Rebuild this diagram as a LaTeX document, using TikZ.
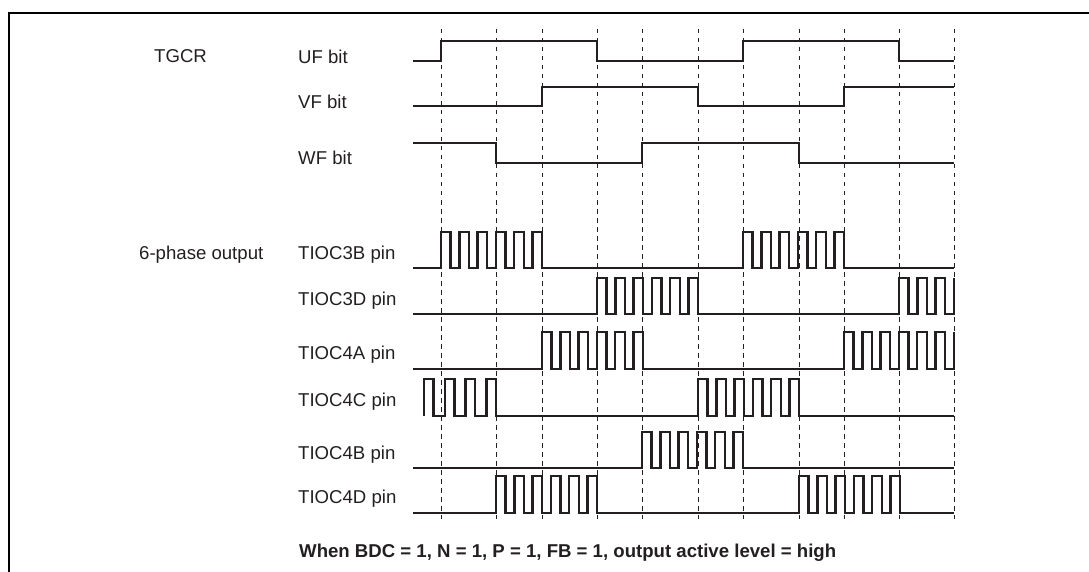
\documentclass[tikz,border=0pt]{standalone}
\usepackage{fontspec}
\setmainfont{Liberation Sans}
\definecolor{ink}{HTML}{231F20}
\def\hw{9.6}
\def\per{18.3}
% pulses: start x, count, low y, high y
\newcommand\pulses[4]{foreach \k in {1,...,#2} { -- ({#1+(\k-1)*\per},#3) -- ({#1+(\k-1)*\per},#4) -- ({#1+(\k-1)*\per+\hw},#4) -- ({#1+(\k-1)*\per+\hw},#3) } }
\begin{document}
\begin{tikzpicture}[x=1pt,y=-1pt,
  sig/.style={line width=2.5pt,color=ink,line join=miter},
  gridline/.style={line width=1pt,dash pattern=on 4.5pt off 4.5pt,color=ink},
  lbl/.style={anchor=west,inner sep=0pt,text=ink,font=\fontsize{18.6}{22}\selectfont},
  captext/.style={anchor=west,inner sep=0pt,text=ink,font=\fontsize{18.6}{22}\selectfont\bfseries}]
\useasboundingbox (0,0) rectangle (1089,572);
% frame
\draw[line width=2.6pt] (9,573) -- (9,13) -- (1090,13);
% dashed time marks
\foreach \x in {441,496,542,597,642,698,743,799,844,899,954}
  \draw[gridline] (\x,29) -- (\x,519);
% labels
\node[lbl] (tgcr) at (154,56.5) {TGCR};
\node[lbl] (uf) at (298,56.5) {UF bit};
\node[lbl] (vf) at (298,101.5) {VF bit};
\node[lbl] (wf) at (298,158) {WF bit};
\node[lbl] (six) at (139,255) {6-phase output};
\node[lbl] (t3b) at (298,255) {TIOC3B pin};
\node[lbl] (t3d) at (298,301) {TIOC3D pin};
\node[lbl] (t4a) at (298,355) {TIOC4A pin};
\node[lbl] (t4c) at (298,402) {TIOC4C pin};
\node[lbl] (t4b) at (298,455) {TIOC4B pin};
\node[lbl] (t4d) at (298,499) {TIOC4D pin};
\node[captext] (caption) at (299,553) {When BDC = 1, N = 1, P = 1, FB = 1, output active level = high};
% TGCR bits
\draw[sig] (413,61) -- (441,61) -- (441,41) -- (597,41) -- (597,61) -- (743,61) -- (743,41) -- (899,41) -- (899,61) -- (954,61);
\draw[sig] (413,106) -- (542,106) -- (542,87) -- (698,87) -- (698,106) -- (844,106) -- (844,87) -- (954,87);
\draw[sig] (413,143) -- (496,143) -- (496,163) -- (642,163) -- (642,143) -- (799,143) -- (799,163) -- (954,163);
% outputs
\draw[sig] (413,268) \pulses{441}{6}{268}{232} \pulses{743}{6}{268}{232} -- (954,268);
\draw[sig] (413,314) \pulses{597}{6}{314}{278} \pulses{899}{3}{314}{278} -- (954,314) -- (954,278);
\draw[sig] (413,369) \pulses{542}{6}{369}{332} \pulses{844}{6}{369}{332} -- (954,369) -- (954,332);
\draw[sig] (424,416) -- (424,379) -- (433.6,379) -- (433.6,416) -- (444.8,416) -- (444.8,379) -- (454.4,379) -- (454.4,416) -- (465.6,416) -- (465.6,379) -- (475.2,379) -- (475.2,416) -- (486.4,416) -- (486.4,379) -- (496,379) -- (496,416) \pulses{698}{6}{416}{379} -- (954,416);
\draw[sig] (413,468) \pulses{642}{6}{468}{432} -- (954,468);
\draw[sig] (413,513) \pulses{496}{6}{513}{476} \pulses{799}{6}{513}{476} -- (954,513);
\end{tikzpicture}
\end{document}
